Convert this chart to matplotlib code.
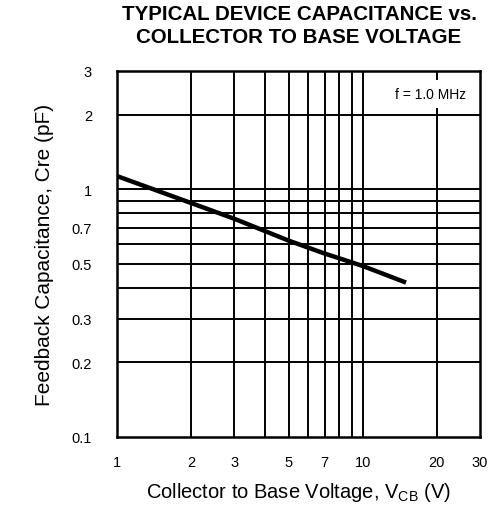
import matplotlib.pyplot as plt
import numpy as np

# curve (log-log)
vcb = [1, 2, 3, 5, 7, 10, 15]
cre = [1.13, 0.88, 0.76, 0.62, 0.55, 0.49, 0.42]

x_grid = [2, 3, 4, 5, 6, 7, 8, 9, 10, 20]
y_grid = [0.2, 0.3, 0.4, 0.5, 0.6, 0.7, 0.8, 0.9, 1, 2]
x_ticks = [1, 2, 3, 5, 7, 10, 20, 30]
x_labels = ['1', '2', '3', '5', '7', '10', '20', '30']
y_ticks = [0.1, 0.2, 0.3, 0.5, 0.7, 1, 2, 3]
y_labels = ['0.1', '0.2', '0.3', '0.5', '0.7', '1', '2', '3']

plt.rcParams['font.family'] = ['Liberation Sans', 'DejaVu Sans']

fig = plt.figure(figsize=(4.98, 5.06), dpi=100)
ax = fig.add_axes([117/498, 1 - 438/506, 363/498, 366/506])

ax.set_xscale('log')
ax.set_yscale('log')
ax.set_xlim(1, 30)
ax.set_ylim(0.1, 3)

for x in x_grid:
    ax.axvline(x, color='black', linewidth=1.4, zorder=1)
for y in y_grid:
    ax.axhline(y, color='black', linewidth=1.4, zorder=1)

ax.plot(vcb, cre, color='black', linewidth=3.2, solid_capstyle='butt', zorder=3)

ax.text(0.962, 0.937, 'f = 1.0 MHz', transform=ax.transAxes, ha='right', va='center',
        fontsize=10, zorder=4,
        bbox=dict(facecolor='white', edgecolor='none', pad=5))

ax.minorticks_off()
ax.set_xticks(x_ticks)
ax.set_xticklabels(x_labels)
ax.set_yticks(y_ticks)
ax.set_yticklabels(y_labels)
ax.tick_params(axis='both', length=0, labelsize=10.5)
ax.tick_params(axis='x', pad=13)
ax.tick_params(axis='y', pad=18)

for s in ax.spines.values():
    s.set_linewidth(1.8)
    s.set_color('black')

ax.set_xlabel('Collector to Base Voltage, V$_{\\mathregular{CB}}$ (V)', fontsize=14.5, labelpad=8)
ax.set_ylabel('Feedback Capacitance, Cre (pF)', fontsize=15, labelpad=13)

fig.text(299/498, 1 - 26/506, 'TYPICAL DEVICE CAPACITANCE vs.\nCOLLECTOR TO BASE VOLTAGE',
         ha='center', va='center', fontsize=14.8, fontweight='bold', linespacing=1.25)

plt.savefig('out.png', dpi=100)
